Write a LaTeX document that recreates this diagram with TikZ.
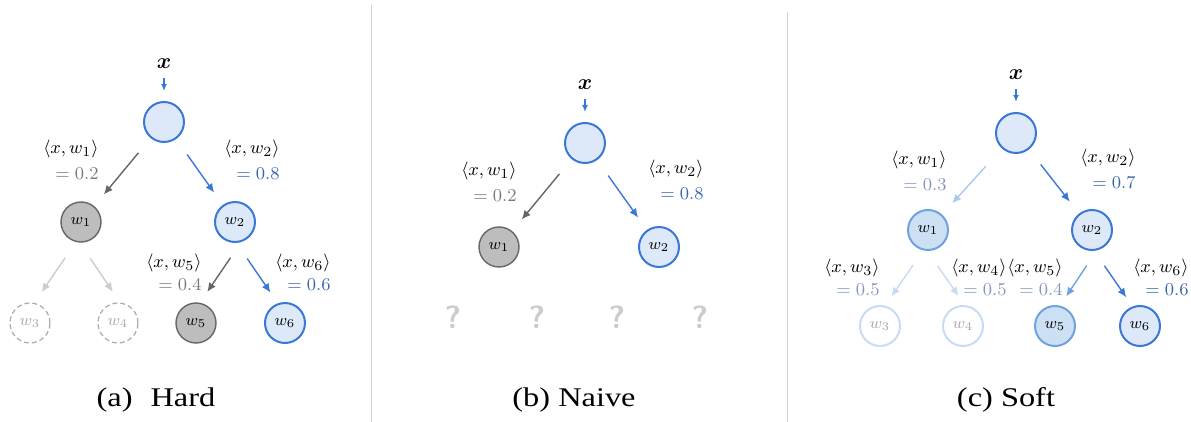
\documentclass[tikz,border=0pt]{standalone}
\usepackage{amsmath}
\usepackage[no-math]{fontspec}
\setmainfont{Liberation Serif}
\newfontfamily\capfont{Liberation Serif}[FakeStretch=1.2]
\usetikzlibrary{arrows.meta, positioning}

\definecolor{blueline}{HTML}{3A78D8}
\definecolor{bluefill}{HTML}{DDE8F8}
\definecolor{bluemid}{HTML}{6FA3E0}
\definecolor{bluemidfill}{HTML}{CDE0F3}
\definecolor{bluelite}{HTML}{A9C8F2}
\definecolor{bluepale}{HTML}{C8DBF4}
\definecolor{darkgray}{HTML}{666666}
\definecolor{dropfill}{HTML}{BDBDBD}
\definecolor{faintgray}{HTML}{CCCCCC}
\definecolor{ghostgray}{HTML}{AAAAAA}
\definecolor{valgray}{HTML}{7A7A7A}
\definecolor{valblue}{HTML}{3A66B0}
\definecolor{valsoft}{HTML}{8797BB}
\definecolor{sepgray}{HTML}{D4D4D4}

\tikzset{
  unit/.style={circle, minimum size=20pt, inner sep=0pt, font=\fontsize{8}{9}\selectfont},
  pick/.style={unit, draw=blueline, fill=bluefill, line width=1pt},
  drop/.style={unit, draw=darkgray, fill=dropfill, line width=0.7pt},
  ghost/.style={unit, draw=ghostgray, dash pattern=on 2.5pt off 1.5pt, line width=0.6pt, text=ghostgray},
  halfpick/.style={unit, draw=bluemid, fill=bluemidfill, line width=1pt},
  faded/.style={unit, draw=bluepale, fill=white, line width=1pt, text=ghostgray},
  xin/.style={inner sep=0pt, font=\fontsize{11}{12}\selectfont},
  feed/.style={-{Latex[length=3.5pt,width=3pt]}, line width=0.7pt, draw=blueline, shorten <=4.5pt, shorten >=5pt},
  route/.style={-{Latex[length=4.5pt,width=4pt]}, line width=0.7pt, shorten <=9.5pt, shorten >=7.5pt},
  branch/.style={route, shorten <=9.5pt, shorten >=6.5pt},
  softbranch/.style={route, shorten <=9pt, shorten >=5.5pt},
  score/.style={anchor=east, align=right, inner sep=0pt, font=\fontsize{9.5}{13}\selectfont},
  lowscore/.style={score, font=\fontsize{9.5}{11.5}\selectfont},
  ask/.style={inner sep=0pt, text=faintgray, font=\fontsize{16}{16}\selectfont\sffamily\bfseries},
  caption/.style={inner sep=0pt, font=\fontsize{13.5}{15}\selectfont\capfont},
  sep/.style={draw=sepgray, line width=0.5pt},
}

\begin{document}
\begin{tikzpicture}[x=0.5pt, y=-0.5pt]
  \useasboundingbox (0,0) rectangle (1191,422);

  % separators
  \draw[sep] (371,5) -- (371,422);
  \draw[sep] (787,12) -- (787,422);

  % (a) hard
  \node[pick] (ra) at (164,122) {};
  \node[xin, above=16pt of ra] (xa) {$\boldsymbol{x}$};
  \node[drop] (a1) at (81,222) {$w_1$};
  \node[pick] (a2) at (235,222) {$w_2$};
  \node[ghost] (a3) at (30,323) {$w_3$};
  \node[ghost] (a4) at (118,323) {$w_4$};
  \node[drop] (a5) at (196,323) {$w_5$};
  \node[pick] (a6) at (285,323) {$w_6$};

  \draw[feed] (xa) -- (ra);
  \draw[route, draw=darkgray] (ra) -- (a1);
  \draw[route, draw=blueline] (ra) -- (a2);
  \draw[branch, draw=faintgray] (a1.256) -- (a3.78);
  \draw[branch, draw=faintgray] (a1.266) -- (a4.84);
  \draw[branch, draw=darkgray] (a2.287) -- (a5.79);
  \draw[branch, draw=blueline] (a2.274) -- (a6.110);

  \node[score] (sa1) at (99,160) {$\langle x, w_1\rangle$\\{\color{valgray}$=0.2$}};
  \node[score] (sa2) at (280,160) {$\langle x, w_2\rangle$\\{\color{valblue}$=0.8$}};
  \node[lowscore] (sa5) at (202,272) {$\langle x, w_5\rangle$\\{\color{valgray}$=0.4$}};
  \node[lowscore] (sa6) at (331,272) {$\langle x, w_6\rangle$\\{\color{valblue}$=0.6$}};

  \node[caption] (capa) at (156,400) {(a)\hspace{9pt}Hard};

  % (b) naive
  \node[pick] (rb) at (585,143) {};
  \node[xin, above=16pt of rb] (xb) {$\boldsymbol{x}$};
  \node[drop] (b1) at (499,247) {$w_1$};
  \node[pick] (b2) at (659,247) {$w_2$};

  \draw[feed] (xb) -- (rb);
  \draw[route, draw=darkgray] (rb) -- (b1);
  \draw[route, draw=blueline] (rb) -- (b2);

  \node[score] (sb1) at (517,182) {$\langle x, w_1\rangle$\\{\color{valgray}$=0.2$}};
  \node[score] (sb2) at (704,180) {$\langle x, w_2\rangle$\\{\color{valblue}$=0.8$}};

  \foreach \qx [count=\i] in {453,537,617,700}
    \node[ask] (q\i) at (\qx,317) {?};

  \node[caption] (capb) at (574,400) {(b) Naive};

  % (c) soft
  \node[pick] (rc) at (1016,133) {};
  \node[xin, above=16pt of rc] (xc) {$\boldsymbol{x}$};
  \node[halfpick] (c1) at (928,230) {$w_1$};
  \node[pick] (c2) at (1092,230) {$w_2$};
  \node[faded] (c3) at (880,326) {$w_3$};
  \node[faded] (c4) at (963,326) {$w_4$};
  \node[halfpick] (c5) at (1055,326) {$w_5$};
  \node[pick] (c6) at (1140,326) {$w_6$};

  \draw[feed] (xc) -- (rc);
  \draw[route, draw=bluelite, shorten <=12pt] (rc) -- (c1);
  \draw[route, draw=blueline] (rc) -- (c2);
  \draw[softbranch, draw=bluepale] (c1.257) -- (c3.76);
  \draw[softbranch, draw=bluepale] (c1.268) -- (c4.85);
  \draw[softbranch, draw=bluemid] (c2.283) -- (c5.76);
  \draw[softbranch, draw=blueline] (c2.276) -- (c6.111);

  \node[score] (sc1) at (947,171) {$\langle x, w_1\rangle$\\{\color{valsoft}$=0.3$}};
  \node[score] (sc2) at (1136,169) {$\langle x, w_2\rangle$\\{\color{valblue}$=0.7$}};
  \node[lowscore] (sc3) at (880,277) {$\langle x, w_3\rangle$\\{\color{valsoft}$=0.5$}};
  \node[lowscore] (sc4) at (1007,277) {$\langle x, w_4\rangle$\\{\color{valsoft}$=0.5$}};
  \node[lowscore] (sc5) at (1063,277) {$\langle x, w_5\rangle$\\{\color{valsoft}$=0.4$}};
  \node[lowscore] (sc6) at (1189,277) {$\langle x, w_6\rangle$\\{\color{valblue}$=0.6$}};

  \node[caption] (capc) at (1006,400) {(c) Soft};
\end{tikzpicture}
\end{document}
